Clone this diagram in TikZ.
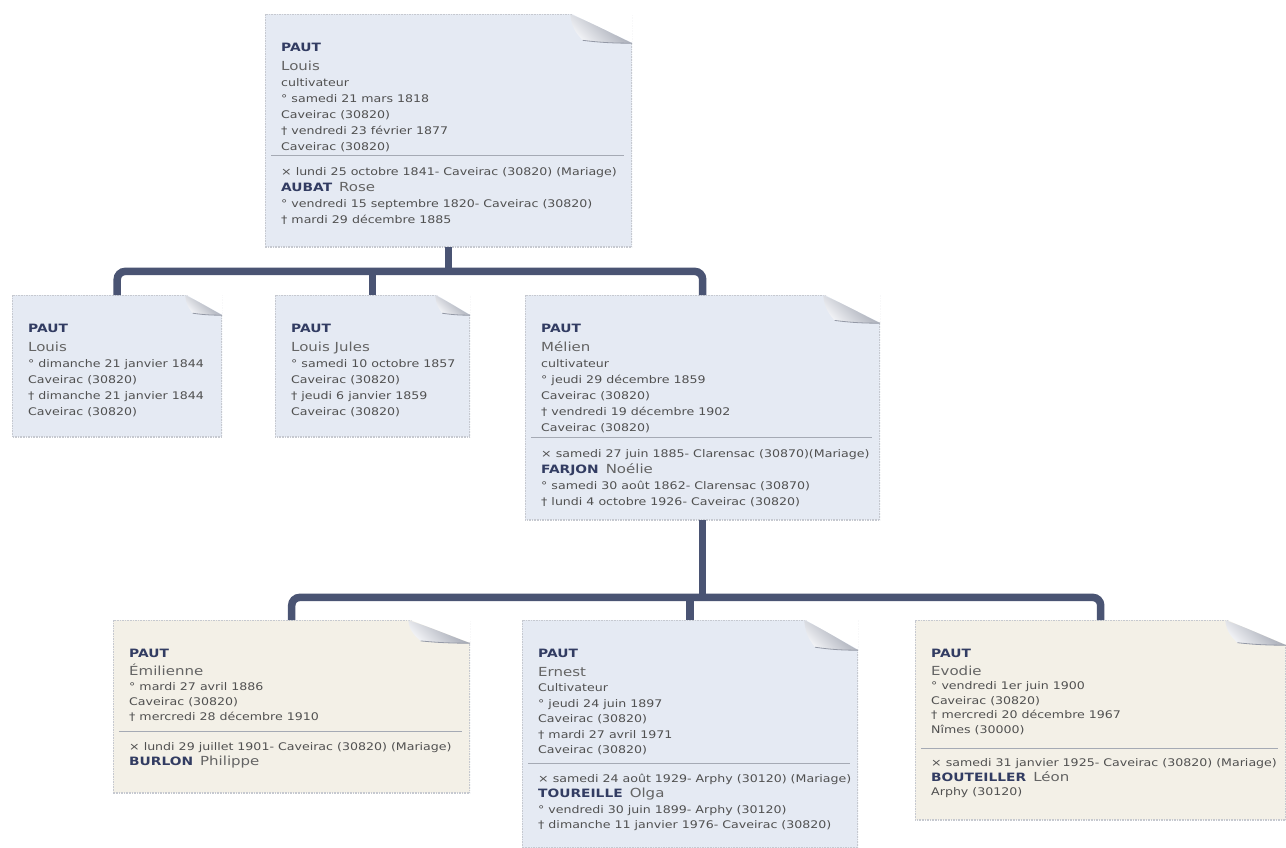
\documentclass[tikz,border=0pt]{standalone}
\usepackage{fontspec}
\setmainfont{DejaVu Sans}[FakeStretch=1.2]
\usetikzlibrary{calc}

\definecolor{linkblue}{RGB}{74,84,115}
\definecolor{paperblue}{RGB}{229,234,243}
\definecolor{papercream}{RGB}{243,240,231}
\definecolor{navytext}{RGB}{50,60,98}
\definecolor{detailgray}{RGB}{80,80,80}
\definecolor{namegray}{RGB}{100,100,100}
\definecolor{rulegray}{RGB}{165,170,180}
\definecolor{edgegray}{RGB}{198,201,208}
\definecolor{flapdark}{RGB}{148,153,166}
\definecolor{flaplight}{RGB}{244,245,248}

% text of a card: [line pitch]{width}{height}{lines}
\newcommand\cardbody[4][16]{\parbox[t][#3pt][t]{#2pt}{\fontsize{10.5}{#1}\selectfont\color{detailgray}%
    \leftskip=16pt\rightskip=0pt plus 1fil\relax
    \vspace*{28.5pt}#4\par}}
\newcommand\surname[1]{{\fontsize{11.5}{14}\selectfont\bfseries\color{navytext}#1}}
\newcommand\given[1]{{\fontsize{12.5}{14}\selectfont\color{namegray}#1}}
\newcommand\cardhead[2]{\surname{#1}\par\vskip3.5pt\given{#2}\par}
\newcommand\spouse[2]{\surname{#1}\hspace{7pt}\given{#2}\par}
% separator line, [extra gap above]
\newcommand\cardrule[1][0]{\par\prevdepth=0pt\vskip\dimexpr#1pt-8pt\relax
  \hbox{\hskip6pt{\color{rulegray}\rule{\dimexpr\hsize-14pt\relax}{0.8pt}}}\vskip3.5pt}

% dog-ear at the top right corner: {width}{height}
\newcommand\cardfold[2]{%
  \coordinate (ne) at (path picture bounding box.north east);
  \coordinate (sw) at (path picture bounding box.south west);
  \draw[edgegray, line width=1.6pt, densely dotted] (sw) rectangle (ne);
  \fill[white] ($(ne)+(-#1,-1)$) -- ($(ne)+(1,-1)$) -- ($(ne)+(1,#2)$) -- cycle;
  \coordinate (fa) at ($(ne)+(-#1,0)$);
  \coordinate (fc) at ($(ne)+(-0.8*#1,0.9*#2)$);
  \coordinate (fb) at ($(ne)+(0,#2)$);
  \shade[top color=flapdark, bottom color=flaplight, shading angle=-45]
    (fa) .. controls +(0.02*#1,0.5*#2) and +(-0.08*#1,-0.2*#2) .. (fc)
    .. controls +(0.3*#1,0.08*#2) and +(-0.3*#1,0) .. (fb)
    .. controls +(-0.3*#1,-0.3*#2) and +(0.35*#1,0.3*#2) .. (fa) -- cycle;
  \draw[flapdark, line width=0.8pt] (fc) .. controls +(0.3*#1,0.08*#2) and +(-0.3*#1,0) .. (fb);
}

\begin{document}
\begin{tikzpicture}[x=1pt, y=-1pt,
    card/.style n args={3}{anchor=north west, inner sep=0pt, fill=#1, path picture={\cardfold{#2}{#3}}},
    link/.style={draw=linkblue, line width=7.5pt, rounded corners=8pt}]
  \path[use as bounding box, fill=white] (0,0) rectangle (1286,848);

  % parents
  \node[card={paperblue}{62}{29}] (louis) at (265,14) {\cardbody{367}{233}{%
    \cardhead{PAUT}{Louis}
    cultivateur\par
    ° samedi 21 mars 1818\par
    Caveirac (30820)\par
    † vendredi 23 février 1877\par
    Caveirac (30820)\par
    \cardrule[-4]
    × lundi 25 octobre 1841- Caveirac (30820) (Mariage)\par
    \spouse{AUBAT}{Rose}
    ° vendredi 15 septembre 1820- Caveirac (30820)\par
    † mardi 29 décembre 1885}};

  % children
  \node[card={paperblue}{37}{20}] (louisb) at (12,295) {\cardbody{210}{142}{%
    \cardhead{PAUT}{Louis}
    ° dimanche 21 janvier 1844\par
    Caveirac (30820)\par
    † dimanche 21 janvier 1844\par
    Caveirac (30820)}};
  \node[card={paperblue}{35}{20}] (jules) at (275,295) {\cardbody{195}{142}{%
    \cardhead{PAUT}{Louis Jules}
    ° samedi 10 octobre 1857\par
    Caveirac (30820)\par
    † jeudi 6 janvier 1859\par
    Caveirac (30820)}};
  \node[card={paperblue}{57}{28}] (melien) at (525,295) {\cardbody{355}{225}{%
    \cardhead{PAUT}{Mélien}
    cultivateur\par
    ° jeudi 29 décembre 1859\par
    Caveirac (30820)\par
    † vendredi 19 décembre 1902\par
    Caveirac (30820)\par
    \cardrule[-3]
    × samedi 27 juin 1885- Clarensac (30870)(Mariage)\par
    \spouse{FARJON}{Noélie}
    ° samedi 30 août 1862- Clarensac (30870)\par
    † lundi 4 octobre 1926- Caveirac (30820)}};

  % grandchildren
  \node[card={papercream}{62}{23}] (emilienne) at (113,620) {\cardbody[15]{357}{173}{%
    \cardhead{PAUT}{Émilienne}
    ° mardi 27 avril 1886\par
    Caveirac (30820)\par
    † mercredi 28 décembre 1910\par
    \cardrule[3]
    × lundi 29 juillet 1901- Caveirac (30820) (Mariage)\par
    \spouse{BURLON}{Philippe}}};
  \node[card={paperblue}{54}{30}] (ernest) at (522,620) {\cardbody[15.5]{336}{228}{%
    \cardhead{PAUT}{Ernest}
    Cultivateur\par
    ° jeudi 24 juin 1897\par
    Caveirac (30820)\par
    † mardi 27 avril 1971\par
    Caveirac (30820)\par
    \cardrule[1]
    × samedi 24 août 1929- Arphy (30120) (Mariage)\par
    \spouse{TOUREILLE}{Olga}
    ° vendredi 30 juin 1899- Arphy (30120)\par
    † dimanche 11 janvier 1976- Caveirac (30820)}};
  \node[card={papercream}{61}{25}] (evodie) at (915,620) {\cardbody[14.5]{371}{200}{%
    \cardhead{PAUT}{Evodie}
    ° vendredi 1er juin 1900\par
    Caveirac (30820)\par
    † mercredi 20 décembre 1967\par
    Nîmes (30000)\par
    \cardrule[8]
    × samedi 31 janvier 1925- Caveirac (30820) (Mariage)\par
    \spouse{BOUTEILLER}{Léon}
    Arphy (30120)}};

  % links
  \coordinate (bus1) at ($(louis.south)+(0,24)$);
  \coordinate (bus2) at ($(melien.south)+(0,77)$);
  \draw[link] (louis.south) -- (bus1);
  \draw[link] (louisb.north) |- (bus1) -| (melien.north);
  \draw[link] (jules.north) -- (jules.north |- bus1);
  \draw[link] (melien.south) -- (bus2);
  \draw[link] (emilienne.north) |- (bus2) -| (evodie.north);
  \draw[link] (ernest.north) -- (ernest.north |- bus2);
\end{tikzpicture}
\end{document}
